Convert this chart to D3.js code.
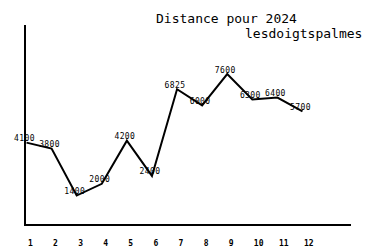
<!DOCTYPE html>
<html>
<head>
<meta charset="utf-8">
<script src="https://cdn.jsdelivr.net/npm/d3@7"></script>
<style>
  body { margin: 0; background: #fff; }
  svg { display: block; }
</style>
</head>
<body>
<div id="chart"></div>
<script>
var width = 375,
    height = 250;

// data
var months = [1, 2, 3, 4, 5, 6, 7, 8, 9, 10, 11, 12];
var distances = [4100, 3800, 1400, 2000, 4200, 2400, 6825, 6000, 7600, 6300, 6400, 5700];
var titleLines = ["Distance pour 2024", "lesdoigtspalmes"];

var svg = d3.select("#chart").append("svg")
    .attr("width", width)
    .attr("height", height);

var x = d3.scaleLinear().domain([1, 12]).range([26.5, 302.5]);
var y = d3.scaleLinear().domain([0, 10100]).range([223, 25]);

// axes (plain lines, no ticks)
svg.append("line")
    .attr("x1", 25).attr("x2", 25)
    .attr("y1", 25).attr("y2", 226)
    .attr("stroke", "#000").attr("stroke-width", 2);
svg.append("line")
    .attr("x1", 24).attr("x2", 351)
    .attr("y1", 225).attr("y2", 225)
    .attr("stroke", "#000").attr("stroke-width", 2);

// month labels
var xAxis = svg.append("g")
    .attr("transform", "translate(0,246)")
    .call(d3.axisBottom(x).tickValues(months).tickSize(0).tickFormat(d3.format("d")));
xAxis.select(".domain").remove();
xAxis.selectAll("text")
    .attr("y", 0).attr("dy", 0).attr("dx", 1)
    .attr("text-anchor", "start")
    .attr("fill", "#000")
    .style("font-family", "'DejaVu Sans Mono', monospace")
    .style("font-size", "8px")
    .style("font-weight", "bold");

// line
var line = d3.line()
    .x(function(d, i) { return x(months[i]); })
    .y(function(d) { return y(d); });

svg.append("path")
    .datum(distances)
    .attr("fill", "none")
    .attr("stroke", "#000")
    .attr("stroke-width", 2)
    .attr("d", line);

// value labels
svg.append("g").selectAll("text")
    .data(distances)
    .enter().append("text")
    .attr("x", function(d, i) { return x(months[i]) - 2; })
    .attr("y", function(d) { return y(d) - 1.5; })
    .attr("text-anchor", "middle")
    .style("font-family", "'DejaVu Sans Mono', monospace")
    .style("font-size", "8px")
    .style("letter-spacing", "0.4px")
    .text(function(d) { return d; });

// title
svg.append("text")
    .attr("x", 156).attr("y", 23)
    .style("font-family", "'DejaVu Sans Mono', monospace")
    .style("font-size", "13px")
    .text(titleLines[0]);
svg.append("text")
    .attr("x", 245).attr("y", 38)
    .style("font-family", "'DejaVu Sans Mono', monospace")
    .style("font-size", "13px")
    .text(titleLines[1]);
</script>
</body>
</html>
